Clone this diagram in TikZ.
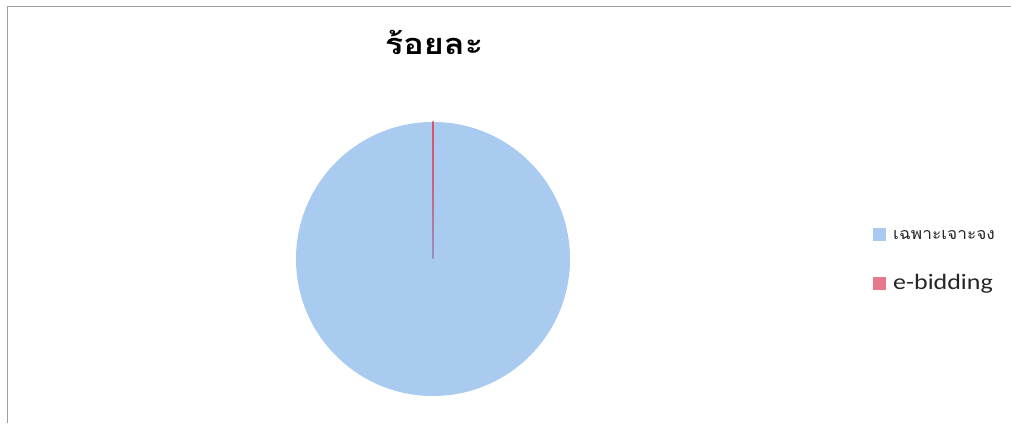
\documentclass[tikz,border=0pt]{standalone}
\usepackage{fontspec}
\newfontfamily\thaifont[Script=Thai]{Loma}
\setmainfont{Carlito}
\definecolor{pieblue}{HTML}{A8CBEF}
\definecolor{piered}{HTML}{E8788C}
\definecolor{sliceline}{HTML}{E0506A}
\definecolor{slicelow}{HTML}{9A8FC0}
\definecolor{framegray}{HTML}{A0A0A0}
\tikzset{
  legbox/.style={minimum size=13pt, inner sep=0pt, draw=none},
  legtext/.style={anchor=west, inner sep=0pt, text=black!85},
}
\begin{document}
\begin{tikzpicture}[x=1pt,y=1pt]
\useasboundingbox (0,0) rectangle (1011,423);
\fill[white] (0,0) rectangle (1011,423);
% frame (top and left edges)
\draw[framegray, line width=1pt] (7,0) -- (7,416) -- (1011,416);
% title
\node[font={\thaifont\bfseries\fontsize{29}{31}\selectfont}, xscale=1.18, transform shape] (title) at (434,381) {ร้อยละ};
% pie
\coordinate (c) at (433,164);
\fill[pieblue] (c) circle[radius=137];
\shade[top color=sliceline, bottom color=slicelow, middle color=sliceline!70!slicelow] (432.4,164) rectangle (433.6,301);
% legend
\node[legbox, fill=pieblue] (k1) at (879,188) {};
\node[legtext, font={\thaifont\fontsize{16}{18}\selectfont}, xscale=1.08, transform shape] (l1) at (893,188) {เฉพาะเจาะจง};
\node[legbox, fill=piered] (k2) at (879,139) {};
\node[legtext, font={\fontsize{22}{24}\selectfont}, xscale=1.18, transform shape] (l2) at (893,139) {e-bidding};
\end{tikzpicture}
\end{document}
